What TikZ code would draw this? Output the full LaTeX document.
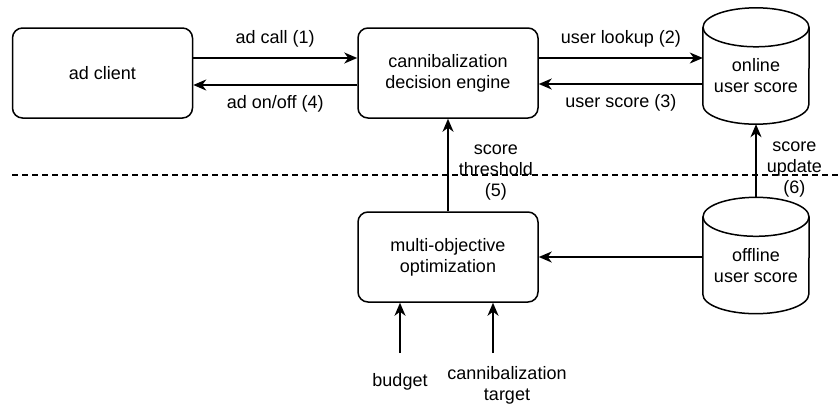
\documentclass[tikz,border=0pt]{standalone}
\usepackage{fontspec}
\setmainfont{Liberation Sans}
\usepackage{tikz}
\usetikzlibrary{arrows.meta, calc}

\tikzset{
  box/.style={draw, line width=1.5pt, rounded corners=10pt, minimum width=180pt,
    minimum height=90pt, align=center, inner sep=0pt},
  store/.style={minimum width=106pt, minimum height=116pt, inner sep=0pt},
  flow/.style={line width=1.5pt, -{Stealth[length=13pt, width=11pt, inset=4pt]}},
  lbl/.style={align=center, inner sep=0pt}
}

% outline of a data store drawn round a named node
\newcommand{\drumoutline}[1]{%
  \draw[line width=1.5pt] ($(#1.north)+(0,-19.5)$) ellipse [x radius=53pt, y radius=19.5pt];
  \draw[line width=1.5pt] ($(#1.north west)+(0,-19.5)$) -- ($(#1.south west)+(0,19.5)$)
    arc[start angle=180, end angle=360, x radius=53pt, y radius=19.5pt]
    -- ($(#1.north east)+(0,-19.5)$);
}

\begin{document}
\begin{tikzpicture}[x=1pt, y=1pt, font=\fontsize{18}{21}\selectfont]

	\useasboundingbox (0,0) rectangle (840,-405);

	\coordinate (P) at (102.5,-73);
	\coordinate (Q) at (448,-73);
	\coordinate (R) at (756,-66);
	\coordinate (S) at (448,-257);
	\coordinate (T) at (756,-255.5);
	\coordinate (U) at (400,-353);
	\coordinate (V) at (493,-353);

	\node[box] (client) at (P) {ad client};
	\node[box] (engine) at (Q) {cannibalization\\decision engine};
	\node[store] (online) at (R) {};
	\node[store] (offline) at (T) {};
	\node[box] (optim) at (S) {multi-objective\\optimization};

	\drumoutline{online}
	\drumoutline{offline}
	\node[lbl] (onlinetext) at ($(R)+(0,-10)$) {online\\user score};
	\node[lbl] (offlinetext) at ($(T)+(0,-10)$) {offline\\user score};

	% dashed border between online and offline parts
	\draw[line width=1.5pt, dash pattern=on 6pt off 4pt] (12,-175) -- (840,-175);

	\draw[flow] ($(client.east)+(0,15)$) -- ($(engine.west)+(0,15)$)
		node[midway, above=10pt, lbl] {ad call (1)};
	\draw[flow] ($(engine.west)+(0,-12)$) -- ($(client.east)+(0,-12)$)
		node[midway, below=10pt, lbl] {ad on/off (4)};
	\draw[flow] ($(engine.east)+(0,15)$) -- ($(online.west)+(0,8)$)
		node[midway, above=10pt, lbl] {user lookup (2)};
	\draw[flow] ($(online.west)+(0,-18)$) -- ($(engine.east)+(0,-11)$)
		node[midway, below=10pt, lbl] {user score (3)};

	\draw[flow] (optim.north) -- (engine.south)
		node[midway, right=10pt, lbl, yshift=-8pt] {score\\threshold\\(5)};
	\draw[flow] (offline.north) -- (online.south)
		node[midway, right=10pt, lbl, yshift=-9pt] {score\\update\\(6)};
	\draw[flow] (offline.west |- optim.east) -- (optim.east);

	\node[lbl, anchor=north] (budget) at ($(U)+(0,-20)$) {budget};
	\node[lbl, anchor=north] (target) at ($(V)+(14,-13)$) {cannibalization\\target};
	\draw[flow] (U) -- (U |- optim.south);
	\draw[flow] (V) -- (V |- optim.south);

\end{tikzpicture}
\end{document}
